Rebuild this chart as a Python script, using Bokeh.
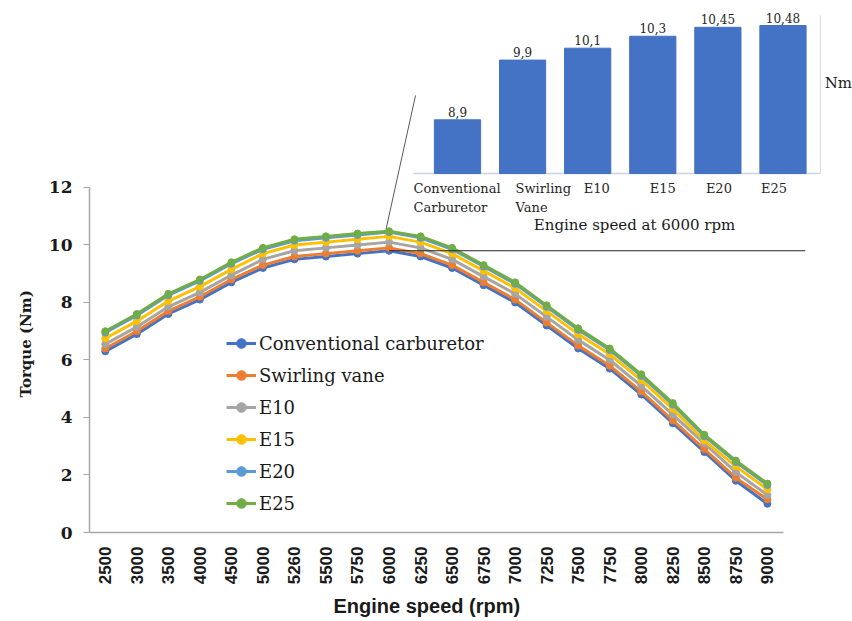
import numpy as np
from bokeh.plotting import figure
from bokeh.models import Range1d, FixedTicker, Legend, LegendItem, Title
from bokeh.core.properties import value
from bokeh.embed import file_html
from bokeh.resources import INLINE

# ---- data -------------------------------------------------------------
speeds = ["2500", "3000", "3500", "4000", "4500", "5000", "5260", "5500",
          "5750", "6000", "6250", "6500", "6750", "7000", "7250", "7500",
          "7750", "8000", "8250", "8500", "8750", "9000"]

conventional = [6.3, 6.9, 7.6, 8.1, 8.7, 9.2, 9.5, 9.6, 9.7, 9.8, 9.6, 9.2,
                8.6, 8.0, 7.2, 6.4, 5.7, 4.8, 3.8, 2.8, 1.8, 1.0]
swirling = [6.4, 7.0, 7.7, 8.2, 8.8, 9.3, 9.6, 9.7, 9.8, 9.9, 9.7, 9.3,
            8.7, 8.1, 7.3, 6.5, 5.8, 4.9, 3.9, 2.9, 1.9, 1.15]
e10 = [6.55, 7.15, 7.85, 8.35, 8.95, 9.5, 9.8, 9.9, 10.0, 10.1, 9.9, 9.5,
       8.9, 8.3, 7.5, 6.7, 6.0, 5.1, 4.1, 3.1, 2.1, 1.3]
e15 = [6.75, 7.35, 8.05, 8.55, 9.15, 9.7, 10.0, 10.1, 10.2, 10.3, 10.1, 9.7,
       9.1, 8.5, 7.7, 6.9, 6.2, 5.3, 4.3, 3.2, 2.3, 1.5]
e20 = [6.95, 7.55, 8.25, 8.75, 9.35, 9.85, 10.15, 10.25, 10.35, 10.45, 10.25,
       9.85, 9.25, 8.65, 7.85, 7.05, 6.35, 5.45, 4.45, 3.35, 2.45, 1.65]
e25 = [7.0, 7.6, 8.3, 8.8, 9.4, 9.9, 10.2, 10.3, 10.4, 10.48, 10.3, 9.9,
       9.3, 8.7, 7.9, 7.1, 6.4, 5.5, 4.5, 3.4, 2.5, 1.7]

series_names = ["Conventional carburetor", "Swirling vane", "E10", "E15",
                "E20", "E25"]
series_values = [conventional, swirling, e10, e15, e20, e25]
series_colors = ["#4472C4", "#ED7D31", "#A5A5A5", "#FFC000", "#5B9BD5",
                 "#70AD47"]

y_ticks = [0, 2, 4, 6, 8, 10, 12]

# torque at 6000 rpm (inset bars)
bar_categories = ["Conventional\nCarburetor", "Swirling\nVane", "E10", "E15",
                  "E20", "E25"]
bar_values = [8.9, 9.9, 10.1, 10.3, 10.45, 10.48]
bar_texts = [f"{v:g}".replace(".", ",") for v in bar_values]

# ---- layout constants ---------------------------------------------------
INSET_BASE = 8.0          # value at the inset's baseline
SERIF = "DejaVu Serif"
SANS = "Liberation Sans"
TEXT = "#1a1a1a"

n = len(speeds)
xi = list(range(n))
peak_i = speeds.index("6000")

p = figure(width=852, height=621,
           x_range=Range1d(-0.5, 23.70), y_range=Range1d(0, 18.504),
           output_backend="svg", toolbar_location=None,
           min_border_left=89, min_border_right=0,
           min_border_top=0, min_border_bottom=89)
p.xgrid.visible = False
p.ygrid.visible = False
p.outline_line_color = None
p.background_fill_color = "white"
p.border_fill_color = "white"

# main axes
xa = p.xaxis[0]
xa.ticker = FixedTicker(ticks=xi)
xa.major_label_overrides = {i: s for i, s in enumerate(speeds)}
xa.bounds = (-0.5, n - 0.5)
xa.major_label_orientation = np.pi / 2
xa.major_tick_out = 0
xa.major_tick_in = 0
xa.minor_tick_out = 0
xa.minor_tick_in = 0
xa.axis_line_color = "#A6A6A6"
xa.axis_line_width = 1.5
xa.major_label_standoff = 14
xa.major_label_text_font = SANS
xa.major_label_text_font_style = "bold"
xa.major_label_text_font_size = "17px"
xa.major_label_text_color = TEXT

ya = p.yaxis[0]
ya.ticker = FixedTicker(ticks=y_ticks)
ya.bounds = (0, 12)
ya.major_tick_out = 6
ya.major_tick_in = 0
ya.minor_tick_out = 0
ya.minor_tick_in = 0
ya.major_tick_line_color = "#A6A6A6"
ya.axis_line_color = "#A6A6A6"
ya.axis_line_width = 1.5
ya.major_label_standoff = 11
ya.major_label_text_font = SERIF
ya.major_label_text_font_style = "bold"
ya.major_label_text_font_size = "17px"
ya.major_label_text_color = TEXT

# axis titles, placed along the drawn axis lines
p.add_layout(Title(text="Engine speed (rpm)", align="left", offset=244,
                   text_font=SANS, text_font_style="bold",
                   text_font_size="20px", text_color=TEXT), "below")
p.add_layout(Title(text="Torque (Nm)", align="left", offset=135,
                   standoff=22,
                   text_font=SERIF, text_font_style="bold",
                   text_font_size="15px", text_color=TEXT), "left")

# torque curves
items = []
for name, vals, col in zip(series_names, series_values, series_colors):
    ln = p.line(xi, vals, line_color=col, line_width=3)
    mk = p.scatter(xi, vals, size=7, fill_color=col, line_color=col)
    items.append(LegendItem(label=name, renderers=[ln, mk]))

legend = Legend(items=items, location=(137, 17),
                border_line_color=None, background_fill_alpha=0,
                padding=0, margin=0, spacing=8,
                glyph_width=30, glyph_height=24, label_height=24,
                label_standoff=3,
                label_text_font=SERIF, label_text_font_size="18px",
                label_text_color=TEXT)
p.add_layout(legend)

# zoom guides from the 6000 rpm peak towards the inset
p.segment(x0=[peak_i - 0.09], y0=[e25[peak_i] + 0.09],
          x1=[peak_i + 0.84], y1=[15.2], line_color="#595959", line_width=1)
p.segment(x0=[peak_i], y0=[conventional[peak_i]],
          x1=[22.2], y1=[conventional[peak_i]],
          line_color="#262626", line_width=1.2)

# ---- inset bar chart ----------------------------------------------------
p.extra_x_ranges = {"inset": Range1d(-5.653, 6.068)}
p.extra_y_ranges = {"inset": Range1d(1.985, 10.899)}
bi = list(range(len(bar_values)))
inset_right = len(bar_values) - 0.424

p.segment(x0=[-0.676], y0=[INSET_BASE], x1=[inset_right], y1=[INSET_BASE],
          line_color="#CDD3E6", line_width=1.5,
          x_range_name="inset", y_range_name="inset")
p.segment(x0=[inset_right], y0=[INSET_BASE], x1=[inset_right], y1=[10.65],
          line_color="#DADDE8", line_width=1.2,
          x_range_name="inset", y_range_name="inset")

p.vbar(x=bi, top=bar_values, bottom=INSET_BASE, width=0.71,
       fill_color="#4472C4", line_color="#4472C4",
       x_range_name="inset", y_range_name="inset")
p.text(x=bi, y=bar_values, text=bar_texts, text_align="center",
       text_baseline="bottom", y_offset=-3,
       text_font=value(SERIF), text_font_size="12px", text_color="#262626",
       x_range_name="inset", y_range_name="inset")
# category names sit left-aligned under their bars
p.text(x=bi, y=[INSET_BASE] * len(bi), text=bar_categories,
       x_offset=[-44, -7, -4, -3, -12, -22],
       text_align="left", text_baseline="top", y_offset=7,
       text_line_height=1.3,
       text_font=value(SERIF), text_font_size="13px", text_color="#262626",
       x_range_name="inset", y_range_name="inset")
p.text(x=[2.72], y=[7.145], text=["Engine speed at 6000 rpm"],
       text_align="center", text_baseline="middle",
       text_font=value(SERIF), text_font_size="15px", text_color=TEXT,
       x_range_name="inset", y_range_name="inset")
p.text(x=[5.85], y=[9.525], text=["Nm"], text_align="center",
       text_baseline="middle",
       text_font=value(SERIF), text_font_size="15px", text_color=TEXT,
       x_range_name="inset", y_range_name="inset")

open("out.html", "w").write(file_html(p, INLINE))
